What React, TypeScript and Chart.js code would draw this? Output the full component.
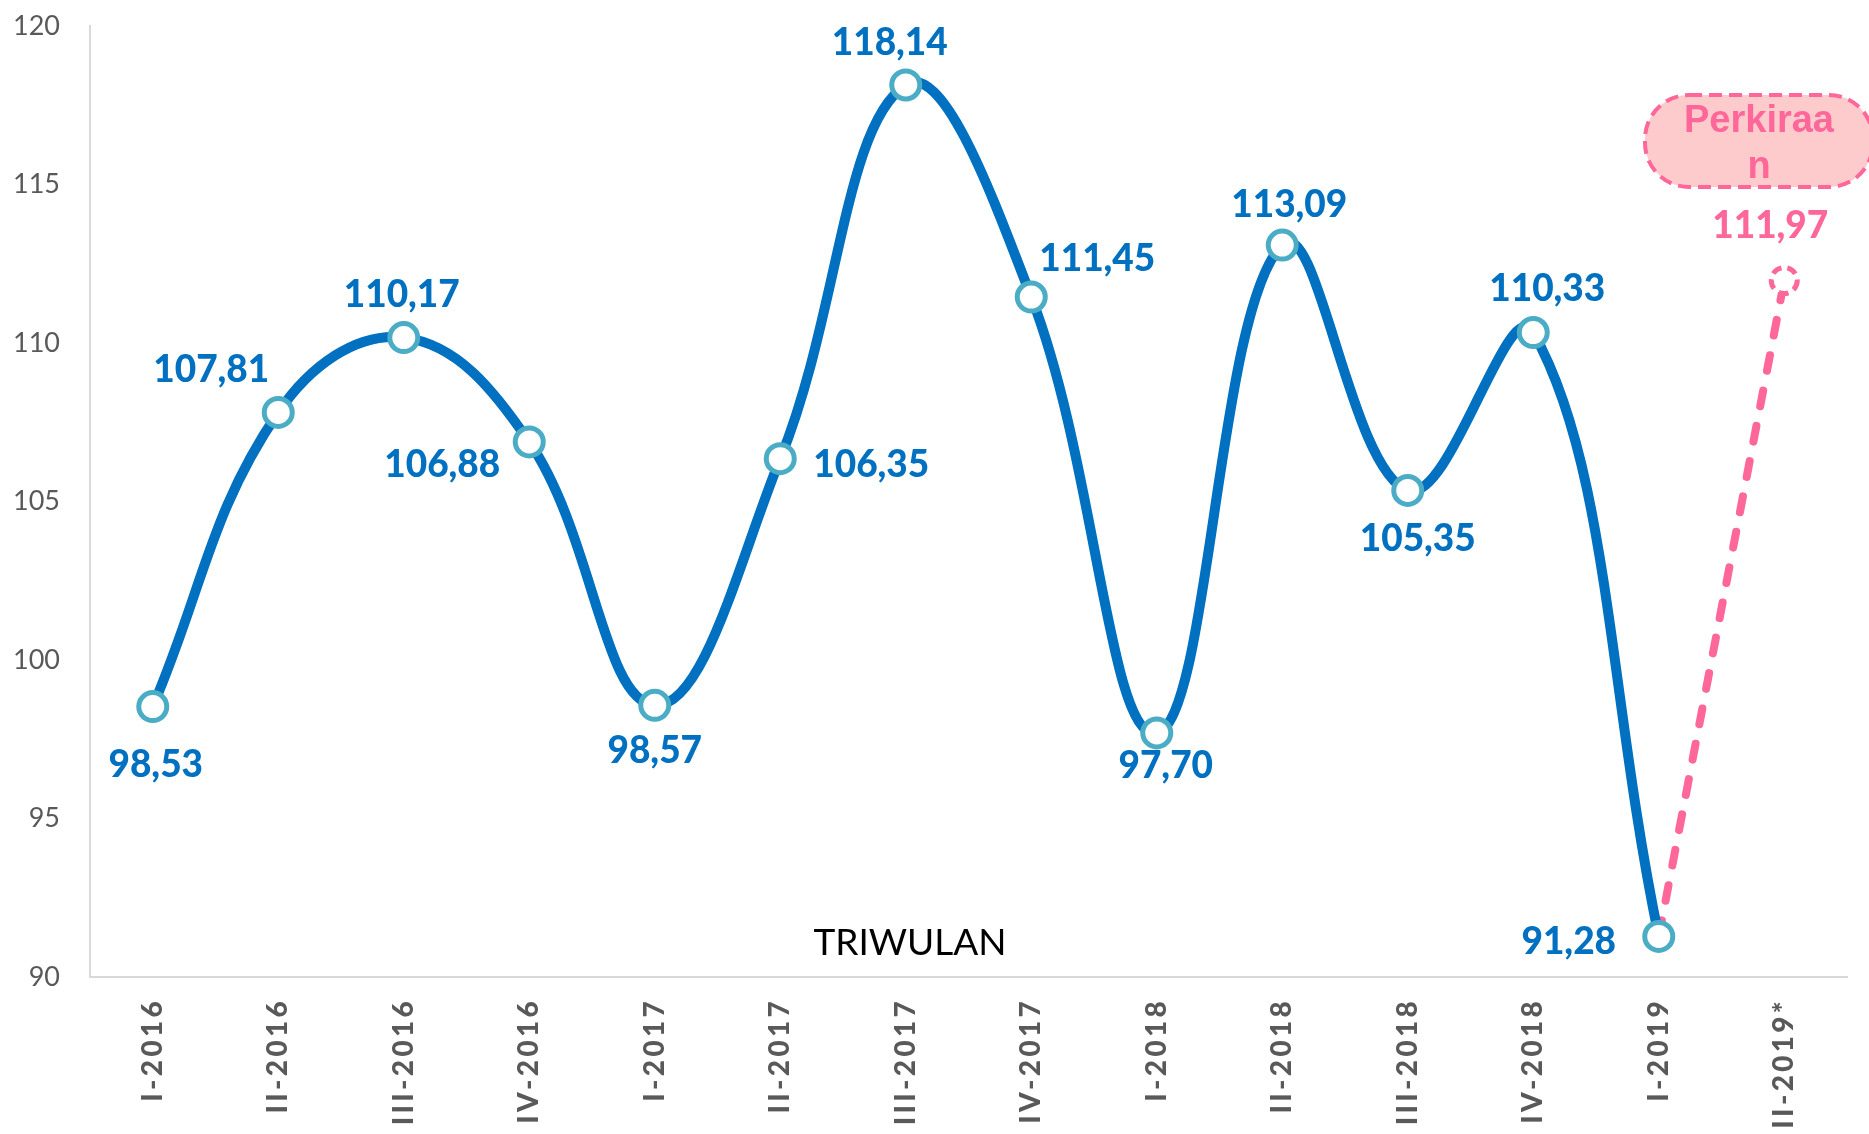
import React, { useEffect, useRef } from "react";
import { Chart, registerables } from "chart.js";

Chart.register(...registerables);

// ---------- data ----------
const categories = [
  "I-2016", "II-2016", "III-2016", "IV-2016",
  "I-2017", "II-2017", "III-2017", "IV-2017",
  "I-2018", "II-2018", "III-2018", "IV-2018",
  "I-2019", "II-2019*",
];
const actualValues: (number | null)[] = [
  98.53, 107.81, 110.17, 106.88,
  98.57, 106.35, 118.14, 111.45,
  97.70, 113.09, 105.35, 110.33,
  91.28, null,
];
const forecastValues: (number | null)[] = [
  null, null, null, null, null, null, null, null, null, null, null, null,
  91.28, 111.97,
];
const yMin = 90;
const yMax = 120;
const yStep = 5;
const axisTitle = "TRIWULAN";
const forecastNote = ["Perkiraa", "n"];

// ---------- styles / positions (not data) ----------
const BLUE = "#0070C0";
const MARKER = "#4BACC6";
const PINK = "#FF6699";
const GREY = "#595959";
const AXIS = "#D9D9D9";

// label offsets (px) relative to each point, for actual series
const actualLabelOffsets: [number, number][] = [
  [3, 58], [-67, -42], [-2, -43], [-87, 23],
  [0, 46], [91, 6], [-16, -42], [66, -38],
  [9, 33], [7, -40], [10, 49], [14, -43],
  [-90, 6], [0, 0],
];
const forecastLabelOffset: [number, number] = [-14, -54];

const fmt = (v: number) => v.toFixed(2).replace(".", ",");

const xLetterSpacing = {
  id: "xLetterSpacing",
  beforeDraw(chart: any) {
    const sc: any = chart.scales.x;
    if (sc && !sc.__patched) {
      const orig = sc.drawLabels;
      sc.drawLabels = function (area: any) {
        const ctx = chart.ctx;
        ctx.save();
        (ctx as any).letterSpacing = "3.3px";
        orig.call(sc, area);
        ctx.restore();
      };
      sc.__patched = true;
    }
  },
};

const dashedForecastPoint = {
  id: "dashedForecastPoint",
  beforeDatasetDraw(chart: any, args: any) {
    if (args.index === 1) {
      chart.ctx.save();
      chart.ctx.setLineDash([10, 6]);
    }
  },
  afterDatasetDraw(chart: any, args: any) {
    if (args.index === 1) {
      chart.ctx.restore();
    }
  },
};

const dataLabels = {
  id: "dataLabels",
  afterDatasetsDraw(chart: any) {
    const ctx = chart.ctx;
    ctx.save();
    ctx.font = "900 37px Lato";
    ctx.textAlign = "center";
    ctx.textBaseline = "middle";
    const m0 = chart.getDatasetMeta(0);
    actualValues.forEach((v, i) => {
      if (v == null) return;
      const pt = m0.data[i];
      const [dx, dy] = actualLabelOffsets[i];
      ctx.fillStyle = BLUE;
      ctx.fillText(fmt(v), pt.x + dx, pt.y + dy);
    });
    const m1 = chart.getDatasetMeta(1);
    const last = forecastValues.length - 1;
    const lv = forecastValues[last];
    if (lv != null) {
      const pt = m1.data[last];
      ctx.fillStyle = PINK;
      ctx.fillText(fmt(lv), pt.x + forecastLabelOffset[0], pt.y + forecastLabelOffset[1]);
    }
    ctx.restore();
  },
};

const annotations = {
  id: "annotations",
  afterDraw(chart: any) {
    const ctx = chart.ctx;
    const area = chart.chartArea;
    ctx.save();
    // axis title inside plot
    ctx.font = "37px Lato";
    ctx.fillStyle = "#000000";
    ctx.textAlign = "center";
    ctx.textBaseline = "alphabetic";
    ctx.fillText(axisTitle, area.left + 820, area.bottom - 22);

    // forecast note box
    const bx = 1645, by = 95, bw = 228, bh = 92;
    ctx.beginPath();
    (ctx as any).roundRect(bx, by, bw, bh, 44);
    ctx.fillStyle = "#FDCBCB";
    ctx.fill();
    ctx.setLineDash([13, 7]);
    ctx.lineWidth = 4;
    ctx.strokeStyle = PINK;
    ctx.stroke();
    ctx.setLineDash([]);
    ctx.font = "bold 38px 'Liberation Sans'";
    ctx.fillStyle = PINK;
    ctx.fillText(forecastNote[0], 1759, 132);
    ctx.fillText(forecastNote[1], 1759, 178);
    ctx.restore();
  },
};

export default function App() {
  const canvasRef = useRef<HTMLCanvasElement | null>(null);

  useEffect(() => {
    document.body.style.margin = "0";
    document.body.style.overflow = "hidden";
    const canvas = canvasRef.current;
    if (!canvas) return;
    const n = categories.length;
    const chart = new Chart(canvas, {
      type: "line",
      data: {
        labels: categories,
        datasets: [
          {
            label: "Aktual",
            data: actualValues,
            borderColor: BLUE,
            borderWidth: 10,
            tension: 0.4,
            fill: false,
            borderCapStyle: "round",
            pointRadius: 14,
            pointBorderWidth: 5,
            pointBorderColor: MARKER,
            pointBackgroundColor: "#FFFFFF",
            pointHoverRadius: 14,
          },
          {
            label: "Perkiraan",
            data: forecastValues,
            borderColor: PINK,
            borderWidth: 8,
            borderDash: [16, 20],
            borderCapStyle: "round",
            tension: 0.4,
            fill: false,
            pointRadius: forecastValues.map((_, i) => (i === n - 1 ? 13 : 0)),
            pointBorderWidth: 5,
            pointBorderColor: PINK,
            pointBackgroundColor: "#FFFFFF",
          },
        ],
      },
      options: {
        responsive: false,
        animation: false,
        devicePixelRatio: 1,
        layout: { padding: { top: 26, right: 22, bottom: 0, left: 0 } },
        plugins: {
          legend: { display: false },
          tooltip: { enabled: false },
        },
        scales: {
          x: {
            offset: true,
            grid: { display: false, drawTicks: false },
            border: { display: true, color: AXIS, width: 2 },
            ticks: {
              minRotation: 90,
              maxRotation: 90,
              padding: 21,
              color: GREY,
              font: { family: "Lato", size: 28, weight: "900" },
              autoSkip: false,
            },
            afterFit: (s: any) => {
              s.height = 157;
            },
          },
          y: {
            min: yMin,
            max: yMax,
            grid: { display: false, drawTicks: false },
            border: { display: true, color: AXIS, width: 2 },
            ticks: {
              stepSize: yStep,
              padding: 30,
              color: GREY,
              font: { family: "Lato", size: 27 },
            },
            afterFit: (s: any) => {
              s.width = 90;
              s.paddingTop = 0;
              s.paddingBottom = 0;
            },
          },
        },
      },
      plugins: [xLetterSpacing, dashedForecastPoint, dataLabels, annotations],
    } as any);
    return () => chart.destroy();
  }, []);

  return (
    <div style={{ width: 1869, height: 1134, overflow: "hidden", background: "#fff" }}>
      <canvas ref={canvasRef} width={1869} height={1134} />
    </div>
  );
}
